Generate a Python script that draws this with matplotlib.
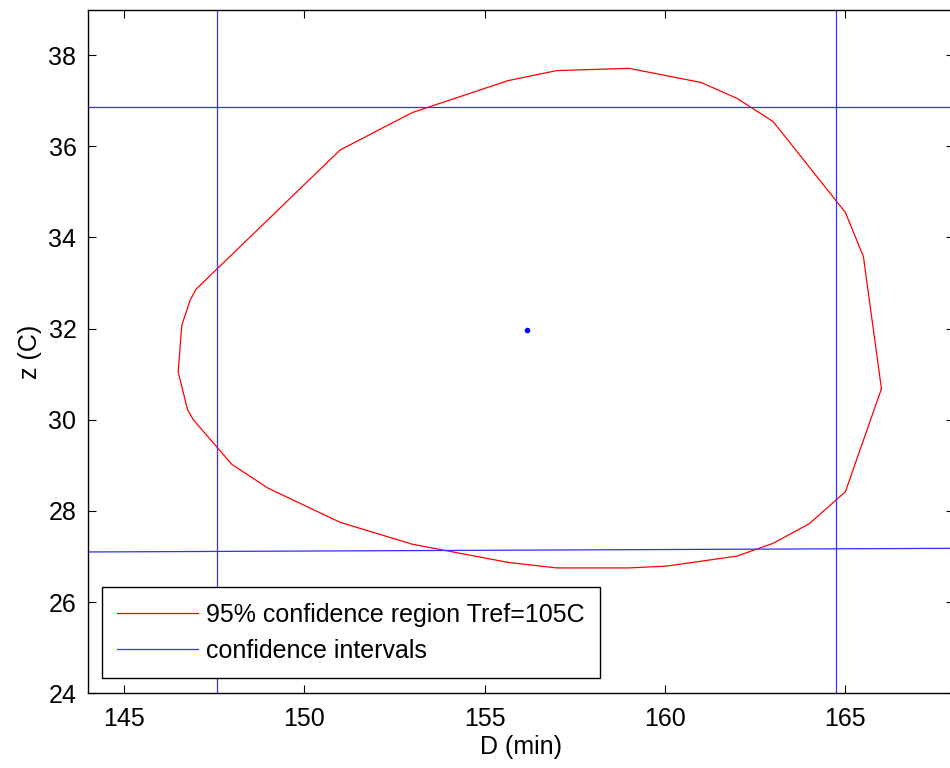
import numpy as np
import matplotlib
matplotlib.use('Agg')
import matplotlib.pyplot as plt

plt.rcParams['font.family'] = ['Liberation Sans', 'DejaVu Sans']

# 95% confidence region boundary (D in min, z in C)
region_D = [166.0, 165.5, 165.0, 163.0, 162.0, 161.0, 159.0, 157.0, 155.65, 153.0,
            151.0, 147.0, 146.84, 146.61, 146.51, 146.77, 146.93, 148.0, 149.0, 151.0,
            153.0, 155.66, 157.0, 159.0, 160.05, 162.0, 163.0, 164.0, 165.0, 166.0]
region_z = [30.68, 33.58, 34.55, 36.54, 37.05, 37.40, 37.71, 37.66, 37.44, 36.74,
            35.92, 32.86, 32.62, 32.07, 31.05, 30.22, 30.00, 29.02, 28.50, 27.75,
            27.27, 26.87, 26.75, 26.75, 26.79, 27.01, 27.29, 27.72, 28.42, 30.68]

# best estimate
D_hat = 156.17
z_hat = 31.98

# individual confidence intervals
D_ci = [147.59, 164.73]
z_ci_upper = [36.87, 36.87]
z_ci_lower = [27.10, 27.18]

xlim = [144, 168]
ylim = [24, 39]

fs = 18

fig = plt.figure(figsize=(9.5, 7.68), dpi=100)
ax = fig.add_axes([0.0922, 0.0973, 0.9116, 0.8903])

ax.plot(region_D, region_z, color='#ff0000', lw=0.9,
        label='95% confidence region Tref=105C')
ax.plot(D_hat, z_hat, '.', color='#0000ff', ms=6)

ax.plot(xlim, z_ci_upper, color='#3030ff', lw=0.9, label='confidence intervals')
ax.plot(xlim, z_ci_lower, color='#3030ff', lw=0.9)
for d in D_ci:
    ax.plot([d, d], ylim, color='#3030ff', lw=0.9)

ax.set_xlim(xlim)
ax.set_ylim(ylim)
ax.set_xticks(np.arange(145, 166, 5))
ax.set_yticks(np.arange(24, 39, 2))

ax.tick_params(direction='in', top=True, right=True, length=6, width=0.8,
               labelsize=fs, colors='black')
ax.tick_params(axis='x', pad=10)
ax.tick_params(axis='y', pad=8)
for s in ax.spines.values():
    s.set_linewidth(1.0)

ax.set_xlabel('D (min)', fontsize=fs, labelpad=3)
ax.set_ylabel('z (C)', fontsize=fs, labelpad=5)

leg = ax.legend(loc='lower left', bbox_to_anchor=(0.0166, 0.022), borderaxespad=0,
                fontsize=fs, handlelength=3.22, handletextpad=0.31,
                borderpad=0.62, labelspacing=0.48, fancybox=False,
                framealpha=1, edgecolor='black')
leg.get_frame().set_linewidth(1.0)

fig.savefig('out.png', dpi=100)
